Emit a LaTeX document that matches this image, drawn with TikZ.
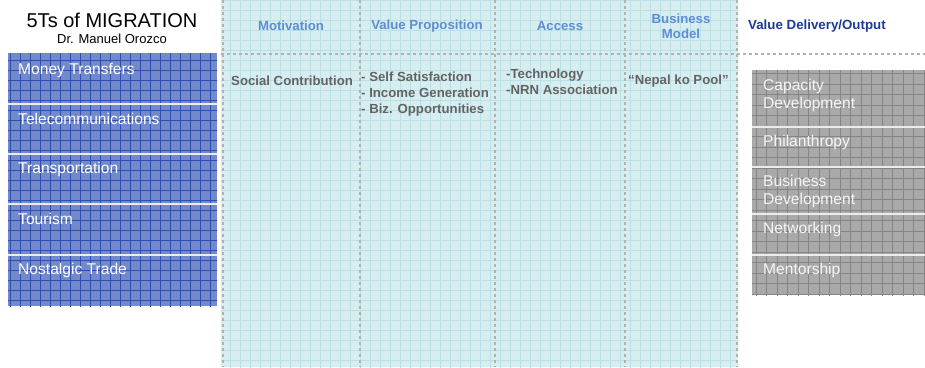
\documentclass[tikz,border=0pt]{standalone}
\usepackage{fontspec}
\setmainfont{Liberation Sans}
\definecolor{tblue}{HTML}{7289CB}
\definecolor{tbluegrid}{HTML}{2E4FB0}
\definecolor{tcyan}{HTML}{D7EEF1}
\definecolor{tcyangrid}{HTML}{BCDFE5}
\definecolor{tgray}{HTML}{A9A9A9}
\definecolor{tgraygrid}{HTML}{858585}
\definecolor{headblue}{HTML}{5D8DD2}
\definecolor{deliveryblue}{HTML}{1B3A9C}
\definecolor{bodygray}{HTML}{636363}
\begin{document}
\begin{tikzpicture}[x=1pt,y=-1pt,
    sepline/.style={draw=black!30,line width=2.5pt,dash pattern=on 2.5pt off 3.5pt},
    divider/.style={draw=white!85!gray,line width=1.3pt},
    item/.style={anchor=west,inner sep=0pt,align=left,
      font=\fontsize{15.6}{18}\selectfont},
    head/.style={inner sep=0pt,align=center,text=headblue,
      font=\bfseries\fontsize{13.2}{15}\selectfont},
    body/.style={anchor=west,inner sep=0pt,align=left,text=bodygray,
      font=\bfseries\fontsize{13.2}{16}\selectfont}]
    \useasboundingbox (0,0) rectangle (925,367);
    % cyan canvas
    \fill[tcyan] (221,0) rectangle (738,367);
    \begin{scope}
      \clip (221,0) rectangle (738,367);
      \draw[tcyangrid,step=10pt,line width=0.9pt] (220,370) grid (740,0);
    \end{scope}
    \foreach \x in {223,360,495,625,737}
      \draw[sepline] (\x,0) -- (\x,367);
    \draw[sepline] (221,54) -- (925,54);
    % blue panel
    \fill[tblue] (8,53) rectangle (217,306);
    \begin{scope}
      \clip (8,53) rectangle (217,306);
      \draw[tbluegrid,step=10pt,line width=0.6pt] (0,310) grid (220,50);
    \end{scope}
    \foreach \y in {104,154,204,255}
      \draw[divider] (8,\y) -- (217,\y);
    % gray panel
    \fill[tgray] (752,70) rectangle (925,295);
    \begin{scope}
      \clip (752,70) rectangle (925,295);
      \draw[tgraygrid,step=10.5pt,line width=0.6pt] (750,300) grid (930,60);
    \end{scope}
    \foreach \y in {127,167,214,255}
      \draw[divider] (752,\y) -- (925,\y);
    % titles
    \node[inner sep=0pt,font=\fontsize{20}{23}\selectfont] (title) at (112,20) {5Ts of MIGRATION};
    \node[inner sep=0pt,font=\fontsize{13}{15}\selectfont] (author) at (112,39) {Dr. Manuel Orozco};
    \foreach \txt/\y [count=\i] in {Money Transfers/70,Telecommunications/119,
        Transportation/169,Tourism/219,Nostalgic Trade/270}
      \node[item,text=white] (t\i) at (18,\y) {\txt};
    % column heads
    \node[head] (motivation) at (291,26) {Motivation};
    \node[head] (valueprop) at (427,26) {Value Proposition};
    \node[head] (access) at (560,26) {Access};
    \node[head] (bizmodel) at (681,26) {Business\\Model};
    \node[anchor=west,inner sep=0pt,text=deliveryblue,
      font=\bfseries\fontsize{13.3}{15}\selectfont] (delivery) at (748,26) {Value Delivery/Output};
    % column contents
    \node[body] (social) at (231,81) {Social Contribution};
    \node[body] (selfsat) at (361,94) {- Self Satisfaction\\- Income Generation\\- Biz. Opportunities};
    \node[body] (tech) at (506,82) {-Technology\\-NRN Association};
    \node[body] (pool) at (628,81) {``Nepal ko Pool''};
    \foreach \txt/\y [count=\i] in {{Capacity\\Development}/95,Philanthropy/142,
        {Business\\Development}/191,Networking/229,Mentorship/270}
      \node[item,text=white!92!gray] (v\i) at (763,\y) {\txt};
\end{tikzpicture}
\end{document}
